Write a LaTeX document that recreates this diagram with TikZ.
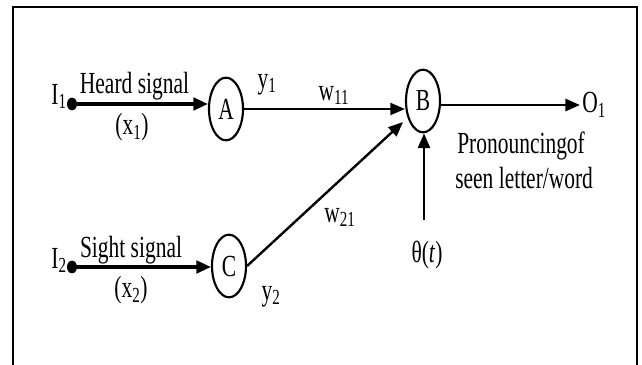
\documentclass[tikz,border=0pt]{standalone}
\usepackage{fontspec}
\setmainfont{Liberation Serif}[FakeStretch=0.7]
\usetikzlibrary{arrows.meta,shapes.geometric}
\tikzset{
  neuron/.style={draw, ellipse, line width=1.6pt, minimum width=25.5pt, minimum height=47pt, inner sep=0pt, font=\fontsize{23}{26}\selectfont},
  lbl/.style={inner sep=0pt, font=\fontsize{23}{26}\selectfont},
  indot/.style={fill, ellipse, minimum width=7.5pt, minimum height=9.5pt, inner sep=0pt},
  inarr/.style={line width=2.4pt, -{Triangle[length=11pt,width=9.5pt]}},
  arr/.style={line width=1.8pt, -{Triangle[length=11pt,width=9pt]}},
  frame/.style={line width=1.6pt}
}
\begin{document}
\begin{tikzpicture}[x=0.75pt,y=-0.75pt]
\useasboundingbox (0,0) rectangle (642,364);
\clip (0,0) rectangle (642,364);
\fill[white] (0,0) rectangle (642,364);
\draw[frame] (13,7) rectangle (637,390);

% neurons
\node[neuron] (A) at (226,109) {A};
\node[neuron] (B) at (423,101) {B};
\node[neuron] (C) at (229,266) {C};

% inputs
\node[indot] (I1d) at (72,104) {};
\node[indot] (I2d) at (72,267) {};
\node[lbl, anchor=base east] (I1) at (67,104) {I\textsubscript{1}};
\node[lbl, anchor=base east] (I2) at (67,268) {I\textsubscript{2}};

\draw[inarr] (I1d) -- (I1d -| A.west);
\draw[inarr] (I2d) -- (I2d -| C.west);

\node[lbl, anchor=base] (hs) at (134.5,93) {Heard signal};
\node[lbl] (x1) at (132,127) {(x\textsubscript{1})};
\node[lbl, anchor=base] (ss) at (131,257) {Sight signal};
\node[lbl] (x2) at (131,290) {(x\textsubscript{2})};

% A -> B, C -> B
\draw[arr] (A.east) -- (A.east -| B.west);
\coordinate (bin) at (403,122);
\draw[arr] (C.east) -- (bin);

\node[lbl, anchor=base] (y1) at (267,88) {y\textsubscript{1}};
\node[lbl, anchor=base] (y2) at (271,300) {y\textsubscript{2}};
\node[lbl, anchor=base] (w11) at (334,100) {w\textsubscript{11}};
\node[lbl, anchor=base] (w21) at (340,222) {w\textsubscript{21}};

% output
\coordinate (O1tip) at (580,105);
\draw[arr, line width=2.2pt] (B.east |- O1tip) -- (O1tip);
\node[lbl, anchor=west] (O1) at (582,105) {O\textsubscript{1}};
\node[lbl, anchor=base west] (p1) at (457,153) {Pronouncingof};
\node[lbl, anchor=base west] (p2) at (455,188) {seen letter/word};

% threshold
\coordinate (thtop) at (424,220);
\draw[arr] (thtop) -- (thtop |- B.south);
\node[lbl, anchor=base] (th) at (427,262) {θ(\textit{t})};
\end{tikzpicture}
\end{document}
